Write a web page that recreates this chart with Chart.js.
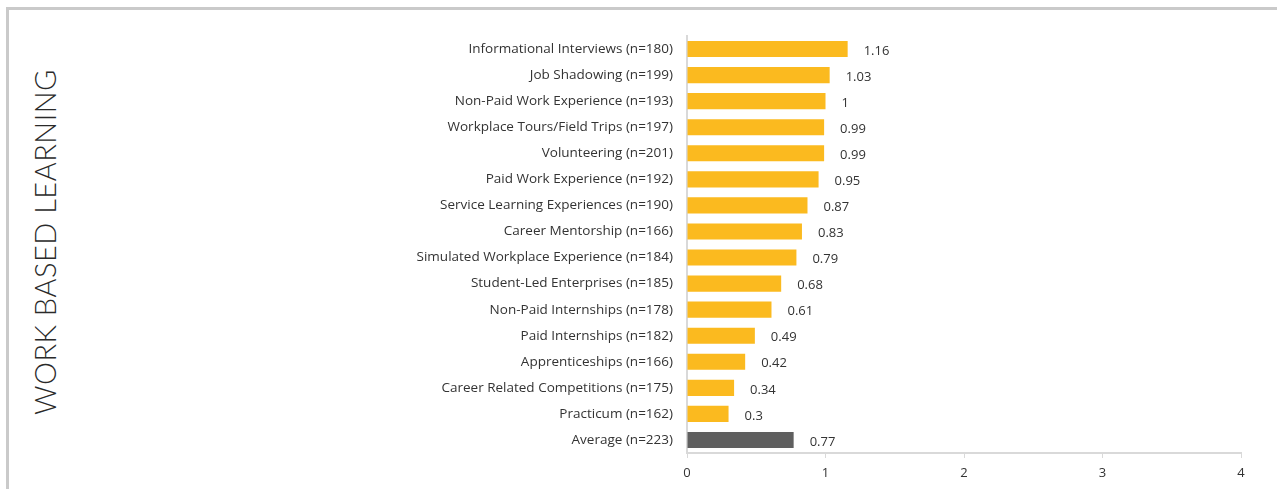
<!DOCTYPE html>
<html>
<head>
<meta charset="utf-8">
<script src="https://cdn.jsdelivr.net/npm/chart.js@4/dist/chart.umd.min.js"></script>
<style>
  html, body { margin: 0; padding: 0; background: #fff; }
  #wrap { position: relative; width: 1277px; height: 489px; overflow: hidden; }
  #frame { position: absolute; left: 6px; top: 7px; width: 1290px; height: 500px;
           border-left: 3px solid #cacaca; border-top: 3px solid #cacaca; }
  #title { position: absolute; left: 44px; top: 242px; transform: translate(-50%, -50%) rotate(-90deg);
           font-family: Lato, "Open Sans", sans-serif; font-weight: 300; font-size: 29px;
           color: #2a2a2a; white-space: nowrap; letter-spacing: 0.5px; }
  canvas { position: absolute; left: 0; top: 0; }
</style>
</head>
<body>
<div id="wrap">
  <div id="frame"></div>
  <div id="title">WORK BASED LEARNING</div>
  <canvas id="wblChart" width="1277" height="489"></canvas>
</div>
<script>
// данные с картинки
const categories = [
  "Informational Interviews (n=180)",
  "Job Shadowing (n=199)",
  "Non-Paid Work Experience (n=193)",
  "Workplace Tours/Field Trips (n=197)",
  "Volunteering (n=201)",
  "Paid Work Experience (n=192)",
  "Service Learning Experiences (n=190)",
  "Career Mentorship (n=166)",
  "Simulated Workplace Experience (n=184)",
  "Student-Led Enterprises (n=185)",
  "Non-Paid Internships (n=178)",
  "Paid Internships (n=182)",
  "Apprenticeships (n=166)",
  "Career Related Competitions (n=175)",
  "Practicum (n=162)",
  "Average (n=223)"
];
const values = [1.16, 1.03, 1, 0.99, 0.99, 0.95, 0.87, 0.83, 0.79, 0.68, 0.61, 0.49, 0.42, 0.34, 0.3, 0.77];
const xTicks = [0, 1, 2, 3, 4];

const barColor = "#fbba1f";
const avgColor = "#5f5f5f";
const barColors = categories.map((c) => (c.startsWith("Average") ? avgColor : barColor));

// подписи значений справа от столбцов
const valueLabels = {
  id: "valueLabels",
  afterDatasetsDraw(chart) {
    const ctx = chart.ctx;
    const meta = chart.getDatasetMeta(0);
    ctx.save();
    ctx.font = "13px 'Open Sans', sans-serif";
    ctx.fillStyle = "#333";
    ctx.textAlign = "left";
    ctx.textBaseline = "middle";
    meta.data.forEach((bar, i) => {
      ctx.fillText(String(values[i]), bar.x + 16, bar.y + 2);
    });
    ctx.restore();
  }
};

const ctx = document.getElementById("wblChart").getContext("2d");
const chart = new Chart(ctx, {
  type: "bar",
  data: {
    labels: categories,
    datasets: [{
      data: values,
      backgroundColor: barColors,
      categoryPercentage: 1,
      barPercentage: 0.62
    }]
  },
  options: {
    indexAxis: "y",
    responsive: false,
    animation: false,
    layout: { padding: { left: 0, top: 36, right: 36, bottom: 0 } },
    plugins: {
      legend: { display: false },
      tooltip: { enabled: false }
    },
    scales: {
      x: {
        min: 0,
        max: 4,
        afterBuildTicks(axis) {
          axis.ticks = xTicks.map((v) => ({ value: v }));
        },
        afterFit(axis) { axis.height = 36; },
        grid: { drawOnChartArea: false, drawTicks: true, tickLength: 5, color: "#d9d9d9" },
        border: { display: true, color: "#d9d9d9", width: 2 },
        ticks: {
          padding: 7,
          color: "#333",
          font: { family: "'Open Sans', sans-serif", size: 13 }
        }
      },
      y: {
        afterFit(axis) { axis.width = 687; },
        grid: { display: false },
        border: { display: true, color: "#d9d9d9", width: 2 },
        ticks: {
          padding: 6,
          color: "#333",
          font: { family: "'Open Sans', sans-serif", size: 13.5 }
        }
      }
    }
  },
  plugins: [valueLabels]
});
</script>
</body>
</html>
